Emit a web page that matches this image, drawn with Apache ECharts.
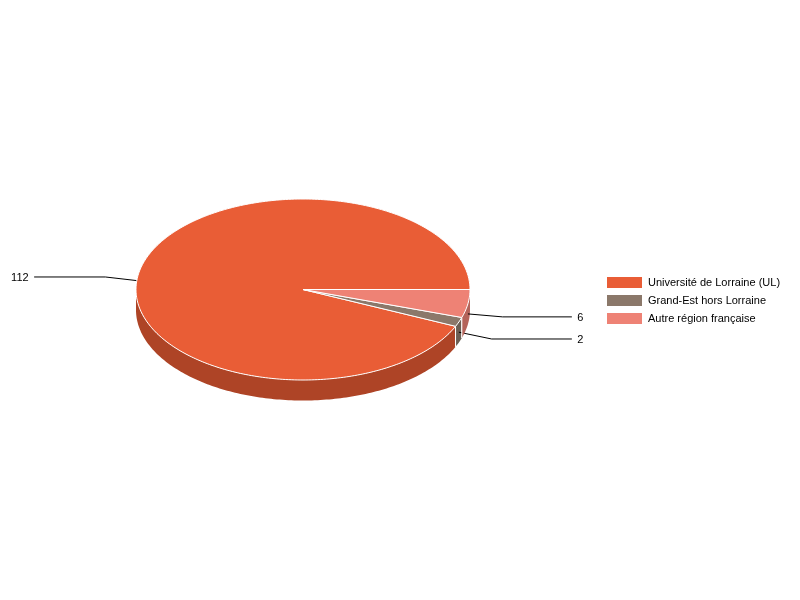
<!DOCTYPE html>
<html><head><meta charset="utf-8">
<style>html,body{margin:0;padding:0;background:#fff}#c{width:800px;height:600px}</style>
<script src="https://cdn.jsdelivr.net/npm/echarts@6/dist/echarts.min.js"></script>
</head><body><div id="c"></div>
<script>
var categories = ["Université de Lorraine (UL)", "Grand-Est hors Lorraine", "Autre région française"];
var values = [112, 2, 6];
var topColors = ["#E95D36", "#8B786A", "#EE8275"];
var wallColors = ["#AE4426", "#6B5E53", "#B4635A"];

var cx = 303, cy = 289.5, rx = 167, ry = 90.5, depth = 20.5;
var labelFactor = 1.21, endFactor = 1.61, gap = 5.5;
var total = values.reduce(function (a, b) { return a + b; }, 0);

// Drawn clockwise on screen from 3 o'clock, with the last category first.
function sliceRange(idx) {
  var before = 0;
  for (var i = values.length - 1; i > idx; i--) before += values[i];
  return [before / total * 360, (before + values[idx]) / total * 360];
}
function pt(deg, k, dy) {
  var a = deg * Math.PI / 180;
  return [cx + rx * (k || 1) * Math.cos(a), cy + ry * (k || 1) * Math.sin(a) + (dy || 0)];
}
function arc(a0, a1, dy) {
  var out = [], n = Math.max(2, Math.ceil(Math.abs(a1 - a0)));
  for (var i = 0; i <= n; i++) out.push(pt(a0 + (a1 - a0) * i / n, 1, dy));
  return out;
}
function renderSlice(idx) {
  return function () {
    var r = sliceRange(idx), kids = [];
    var w0 = Math.min(r[0], 180), w1 = Math.min(r[1], 180);
    if (w1 > w0) {
      kids.push({ type: 'polygon', shape: { points: arc(w0, w1, 0).concat(arc(w1, w0, depth)) },
        style: { fill: wallColors[idx] } });
      [w0, w1].forEach(function (a) {
        if (a > 0 && a < 180) kids.push({ type: 'line',
          shape: { x1: pt(a)[0], y1: pt(a)[1], x2: pt(a, 1, depth)[0], y2: pt(a, 1, depth)[1] },
          style: { stroke: '#fff', lineWidth: 1 } });
      });
    }
    var mid = (r[0] + r[1]) / 2;
    var p0 = pt(mid, 1, depth / 2), p1 = pt(mid, labelFactor, depth / 2);
    var right = p1[0] > cx, p2 = [cx + rx * endFactor * (right ? 1 : -1), p1[1]];
    kids.push({ type: 'polyline', shape: { points: [p0, p1, p2] },
      style: { stroke: '#000', lineWidth: 1, fill: null } });
    kids.push({ type: 'text', style: {
      x: p2[0] + (right ? gap : -gap), y: p2[1] + 1, text: String(values[idx]),
      fill: '#000', font: '11px "Liberation Sans", Arial, sans-serif',
      align: right ? 'left' : 'right', verticalAlign: 'middle' } });
    kids.push({ type: 'polygon', shape: { points: [[cx, cy]].concat(arc(r[0], r[1], 0)) },
      style: { fill: topColors[idx], stroke: '#fff', lineWidth: 1, lineJoin: 'round' } });
    return { type: 'group', children: kids };
  };
}
var chart = echarts.init(document.getElementById('c'), null, { renderer: 'canvas' });
chart.setOption({
  animation: false,
  backgroundColor: '#fff',
  legend: {
    orient: 'vertical', left: 607, top: 277, padding: 0, itemWidth: 35, itemHeight: 11, itemGap: 7,
    icon: 'rect', selectedMode: false, data: categories,
    textStyle: { color: '#000', fontSize: 11, fontFamily: '"Liberation Sans", Arial, sans-serif', padding: [0, 0, 0, 1] }
  },
  series: categories.map(function (name, i) {
    return { type: 'custom', name: name, coordinateSystem: 'none', silent: true,
      itemStyle: { color: topColors[i] }, data: [[values[i]]], renderItem: renderSlice(i) };
  })
});
</script></body></html>
